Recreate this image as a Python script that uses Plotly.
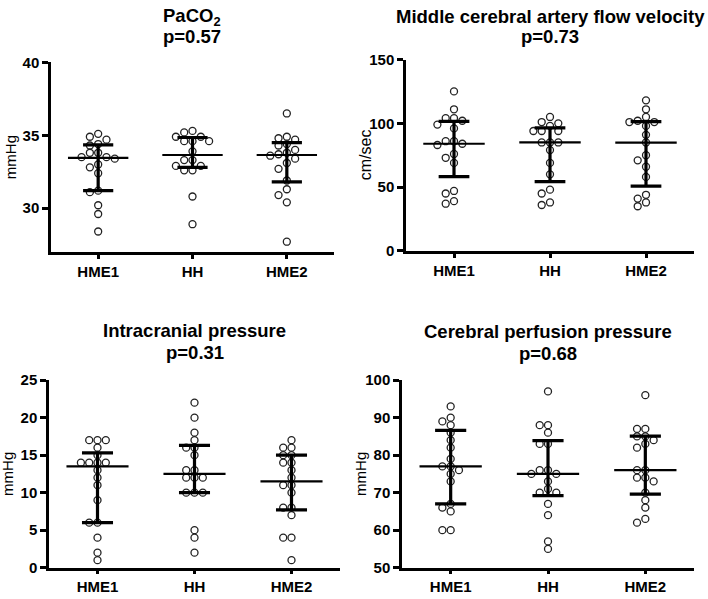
import plotly.graph_objects as go

# ---------------- data ----------------
categories = ["HME1", "HH", "HME2"]

paco2_hme1 = [35.1, 34.9, 34.7, 34.4, 34.3, 33.8, 33.8, 33.5, 33.5, 33.4, 33.0, 32.8, 32.4, 31.2, 31.1, 30.2, 29.6, 28.4]
paco2_hh = [35.3, 35.2, 34.9, 34.9, 34.6, 34.6, 34.6, 33.9, 33.3, 33.3, 32.9, 32.9, 32.6, 32.6, 30.8, 28.9]
paco2_hme2 = [36.5, 34.9, 34.8, 34.7, 34.4, 34.3, 34.0, 33.8, 33.7, 33.6, 33.4, 33.1, 32.7, 31.9, 31.3, 30.9, 30.4, 27.7]
paco2_median = [33.45, 33.65, 33.65]
paco2_q1 = [31.2, 32.8, 31.8]
paco2_q3 = [34.35, 34.85, 34.5]

mca_hme1 = [125, 111, 104, 104, 102, 99, 96, 86, 86, 84, 83, 76, 73, 69, 47, 45, 39, 37]
mca_hh = [105, 101, 100, 98, 94, 94, 94, 85, 85, 85, 79, 69, 60, 48, 45, 38, 36]
mca_hme2 = [118, 111, 105, 102, 101, 101, 98, 91, 85, 75, 71, 66, 58, 44, 41, 38, 35]
mca_median = [84, 85, 84.8]
mca_q1 = [58.2, 54.3, 50.8]
mca_q3 = [101.5, 96.4, 101.3]

icp_hme1 = [17, 17, 17, 16, 15, 14, 14, 14, 14, 13, 12, 11, 9, 6, 6, 4, 2, 1]
icp_hh = [22, 20, 18, 17, 16, 16, 15, 13, 13, 12, 12, 12, 10, 10, 10, 5, 4, 2]
icp_hme2 = [17, 16, 16, 15, 15, 14, 14, 13, 12, 11, 11, 10, 8, 8, 7, 4, 4, 1]
icp_median = [13.5, 12.5, 11.5]
icp_q1 = [6.0, 10.0, 7.7]
icp_q3 = [15.3, 16.3, 15.0]

cpp_hme1 = [93, 90, 89, 88, 86, 84, 82, 79, 77, 77, 76, 75, 73, 67, 66, 65, 60, 60]
cpp_hh = [97, 88, 88, 86, 83, 83, 76, 76, 75, 75, 73, 71, 70, 70, 67, 64, 57, 55]
cpp_hme2 = [96, 87, 87, 85, 85, 84, 83, 82, 76, 76, 74, 74, 73, 70, 68, 66, 63, 62]
cpp_median = [77, 75, 76]
cpp_q1 = [67.0, 69.2, 69.6]
cpp_q3 = [86.6, 83.9, 85.1]

title_lines = [("PaCO<sub>2</sub>", "p=0.57"),
               ("Middle cerebral artery flow velocity", "p=0.73"),
               ("Intracranial pressure", "p=0.31"),
               ("Cerebral perfusion pressure", "p=0.68")]
ylabels = ["mmHg", "cm/sec", "mmHg", "mmHg"]
yranges = [[27, 40], [0, 150], [0, 25], [50, 100]]
ytickvals = [[30, 35, 40], [0, 50, 100, 150], [0, 5, 10, 15, 20, 25], [50, 60, 70, 80, 90, 100]]

panels = [
    ([paco2_hme1, paco2_hh, paco2_hme2], paco2_median, paco2_q1, paco2_q3),
    ([mca_hme1, mca_hh, mca_hme2], mca_median, mca_q1, mca_q3),
    ([icp_hme1, icp_hh, icp_hme2], icp_median, icp_q1, icp_q3),
    ([cpp_hme1, cpp_hh, cpp_hme2], cpp_median, cpp_q1, cpp_q3),
]

# ---------------- layout geometry (pixels) ----------------
W, H = 708, 599
# (left, right, top, bottom) of each plot area
boxes = [(51, 334, 55, 250), (406, 694, 52, 249), (49, 340, 382, 575), (402, 694, 382, 575)]
# vertical centres of the two title lines
title_y = [(8, 28.5), (8, 28), (331, 353.5), (332, 354.5)]
XR = [-0.5, 2.5]


def beeswarm(values, ypx, xpx, step=8.3, mind=7.3):
    placed = []
    offs = []
    for v in values:
        y = v * ypx
        cands = [0.0]
        for i in range(1, 12):
            cands += [-i * step, i * step]
        chosen = 0.0
        for c in cands:
            ok = True
            for (px, py) in placed:
                if ((px - c) ** 2 + (py - y) ** 2) ** 0.5 < mind:
                    ok = False
                    break
            if ok:
                chosen = c
                break
        placed.append((chosen, y))
        offs.append(chosen / xpx)
    return offs


fig = go.Figure()
font = "Liberation Sans, Arial, sans-serif"
annotations = []

for p, (groups, med, q1, q3) in enumerate(panels):
    l, r, t, b = boxes[p]
    xa = "x" if p == 0 else f"x{p+1}"
    ya = "y" if p == 0 else f"y{p+1}"
    ypx = (b - t) / (yranges[p][1] - yranges[p][0])
    xpx = (r - l) / (XR[1] - XR[0])
    for gi, vals in enumerate(groups):
        offs = beeswarm(vals, ypx, xpx)
        fig.add_trace(go.Scatter(
            x=[gi + o for o in offs], y=vals, mode="markers", xaxis=xa, yaxis=ya,
            marker=dict(symbol="circle", size=7, color="white",
                        line=dict(color="#222", width=1.3)),
            showlegend=False, hoverinfo="y", cliponaxis=False))
    # summary lines (median, interquartile range)
    for gi in range(3):
        fig.add_trace(go.Scatter(x=[gi, gi], y=[q1[gi], q3[gi]], mode="lines",
                                 xaxis=xa, yaxis=ya, line=dict(color="black", width=3.2),
                                 showlegend=False, hoverinfo="skip"))
        for yv in (q1[gi], q3[gi]):
            fig.add_trace(go.Scatter(x=[gi - 0.16, gi + 0.16], y=[yv, yv], mode="lines",
                                     xaxis=xa, yaxis=ya, line=dict(color="black", width=3.2),
                                     showlegend=False, hoverinfo="skip"))
        fig.add_trace(go.Scatter(x=[gi - 0.32, gi + 0.32], y=[med[gi], med[gi]], mode="lines",
                                 xaxis=xa, yaxis=ya, line=dict(color="black", width=2.2),
                                 showlegend=False, hoverinfo="skip"))

    xkey = "xaxis" if p == 0 else f"xaxis{p+1}"
    ykey = "yaxis" if p == 0 else f"yaxis{p+1}"
    fig.update_layout(**{
        xkey: dict(domain=[l / W, r / W], range=XR, anchor=ya, tickvals=[0, 1, 2],
                   ticktext=categories, showline=True, linecolor="black", linewidth=2.5,
                   ticks="outside", ticklen=4, tickwidth=2.5, tickcolor="black",
                   showgrid=False, zeroline=False, fixedrange=True,
                   tickfont=dict(family=font, size=15, color="black", weight="bold")),
        ykey: dict(domain=[1 - b / H, 1 - t / H], range=yranges[p], anchor=xa,
                   tickvals=ytickvals[p], showline=True, linecolor="black", linewidth=2.5,
                   ticks="outside", ticklen=6, tickwidth=2.5, tickcolor="black",
                   showgrid=False, zeroline=False, fixedrange=True,
                   tickfont=dict(family=font, size=15, color="black", weight="bold")),
    })
    for li, txt in enumerate(title_lines[p]):
        annotations.append(dict(text=txt, x=(l + r) / 2 / W, y=1 - title_y[p][li] / H,
                                xref="paper", yref="paper", xanchor="center", yanchor="middle",
                                showarrow=False, align="center",
                                font=dict(family=font, size=18.5, color="black", weight="bold")))
    annotations.append(dict(text=ylabels[p], x=(l - 41) / W, y=1 - (t + b) / 2 / H,
                            xref="paper", yref="paper", xanchor="center", yanchor="middle",
                            textangle=-90, showarrow=False,
                            font=dict(family=font, size=16 if p == 1 else 15, color="black")))

fig.update_layout(width=W, height=H, margin=dict(l=0, r=0, t=0, b=0),
                  paper_bgcolor="white", plot_bgcolor="white",
                  annotations=annotations, showlegend=False)

fig.write_html("out.html", config={"displayModeBar": False},
               post_script="document.body.style.margin='0';document.body.style.overflow='hidden';")
